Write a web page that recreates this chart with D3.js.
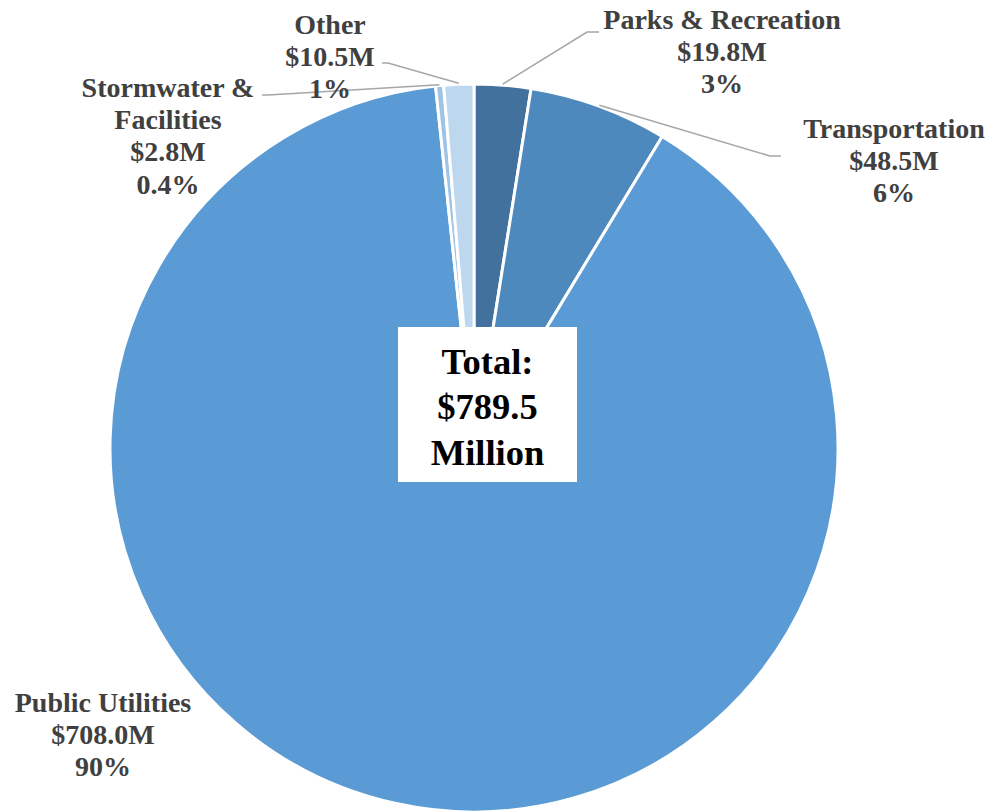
<!DOCTYPE html>
<html><head><meta charset="utf-8">
<script src="https://cdn.jsdelivr.net/npm/d3@7"></script>
<style>body{margin:0;background:#fff}svg{display:block}</style>
</head><body>
<svg id="c" width="990" height="812"></svg>
<script>
const categories = ["Parks & Recreation","Transportation","Public Utilities","Stormwater & Facilities","Other"];
const values = [19.8, 48.5, 708.0, 2.8, 10.5];
const valueLabels = ["$19.8M","$48.5M","$708.0M","$2.8M","$10.5M"];
const pctLabels = ["3%","6%","90%","0.4%","1%"];
const colors = ["#41719C","#4E89BD","#5B9BD5","#9DC3E6","#BDD7EE"];
const totalLines = ["Total:","$789.5","Million"];

// label layout (annotation placement)
const labelLayout = [
  {x:722, y:19, name:["Parks & Recreation"], leader:[[587,32],[599,32]]},
  {x:894, y:128, name:["Transportation"], leader:[[770,156],[781,156]]},
  {x:103, y:702, name:["Public Utilities"], leader:null},
  {x:168, y:87, name:["Stormwater &","Facilities"], leader:[[268,95],[262,95]]},
  {x:330, y:24, name:["Other"], leader:[[388,63],[382,63]]}
];

const svg = d3.select("#c");
const cx = 474, cy = 448, R = 364;
const g = svg.append("g").attr("transform",`translate(${cx},${cy})`);
const pie = d3.pie().sort(null).value(d=>d)(values);
const arc = d3.arc().innerRadius(0).outerRadius(R);
g.selectAll("path").data(pie).join("path")
  .attr("d",arc).attr("fill",(d,i)=>colors[i])
  .attr("stroke","#fff").attr("stroke-width",3).attr("stroke-linejoin","round");

// leader lines
pie.forEach((d,i)=>{
  const L = labelLayout[i];
  if(!L.leader) return;
  const mid = (d.startAngle+d.endAngle)/2;
  const p0 = [cx + Math.sin(mid)*(R+1), cy - Math.cos(mid)*(R+1)];
  const pts = [p0, ...L.leader];
  svg.append("path").attr("d",d3.line()(pts)).attr("fill","none")
    .attr("stroke","#A6A6A6").attr("stroke-width",1.5);
});

// labels
labelLayout.forEach((L,i)=>{
  const lines = [...L.name, valueLabels[i], pctLabels[i]];
  const t = svg.append("text").attr("text-anchor","middle")
    .attr("font-family","'Liberation Serif','Times New Roman',serif")
    .attr("font-weight","bold").attr("font-size",28).attr("fill","#404040");
  lines.forEach((s,k)=>{
    t.append("tspan").attr("x",L.x).attr("y",L.y + k*32.3).attr("dy","0.35em").text(s);
  });
});

// total box
svg.append("rect").attr("x",398).attr("y",327).attr("width",179).attr("height",155).attr("fill","#fff");
const tt = svg.append("text").attr("text-anchor","middle")
  .attr("font-family","'Liberation Serif','Times New Roman',serif")
  .attr("font-weight","bold").attr("font-size",36.5).attr("fill","#000");
totalLines.forEach((s,k)=>{
  tt.append("tspan").attr("x",487.5).attr("y",361 + k*45.5).attr("dy","0.35em").text(s);
});
</script>
</body></html>
